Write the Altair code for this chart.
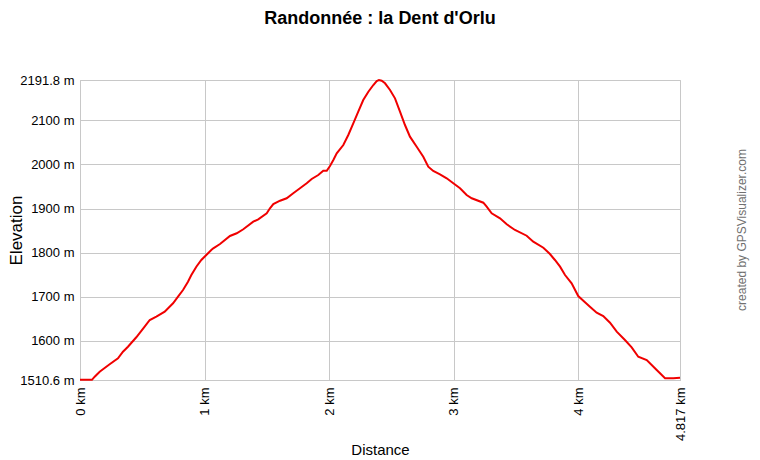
import altair as alt
import pandas as pd

title_text = "Randonnée : la Dent d'Orlu"
credit_text = "created by GPSVisualizer.com"

distance_km = [
    0.000, 0.096, 0.118, 0.158, 0.238, 0.305, 0.345, 0.385, 0.452, 0.519,
    0.560, 0.613, 0.680, 0.747, 0.787, 0.827, 0.867, 0.894, 0.934, 0.974,
    1.014, 1.054, 1.070, 1.124, 1.204, 1.258, 1.311, 1.391, 1.431, 1.499,
    1.525, 1.552, 1.606, 1.659, 1.712, 1.766, 1.820, 1.860, 1.913, 1.953,
    1.981, 2.007, 2.034, 2.061, 2.114, 2.154, 2.194, 2.234, 2.274, 2.315,
    2.355, 2.382, 2.400, 2.422, 2.449, 2.489, 2.529, 2.569, 2.609, 2.649,
    2.703, 2.756, 2.796, 2.836, 2.890, 2.944, 2.997, 3.051, 3.104, 3.145,
    3.238, 3.265, 3.305, 3.372, 3.426, 3.492, 3.586, 3.639, 3.720, 3.773,
    3.813, 3.854, 3.894, 3.947, 4.000, 4.041, 4.094, 4.148, 4.201, 4.255,
    4.309, 4.375, 4.429, 4.482, 4.550, 4.630, 4.697, 4.764, 4.817,
]
elevation_m = [
    1511.0, 1511.0, 1518.1, 1529.4, 1546.2, 1559.9, 1574.8, 1586.2, 1607.6, 1631.6,
    1646.8, 1654.3, 1665.7, 1684.8, 1699.7, 1715.0, 1733.8, 1749.0, 1767.9, 1783.1,
    1794.4, 1805.8, 1809.6, 1819.4, 1837.6, 1843.7, 1852.8, 1870.0, 1875.5, 1889.1,
    1900.5, 1910.2, 1917.7, 1923.2, 1934.5, 1945.9, 1957.2, 1967.0, 1976.1, 1985.8,
    1985.8, 1996.5, 2010.1, 2025.4, 2044.2, 2066.9, 2093.5, 2119.8, 2146.4, 2165.2,
    2180.4, 2189.5, 2191.8, 2190.2, 2184.3, 2169.1, 2150.2, 2119.8, 2089.6, 2063.1,
    2040.3, 2017.6, 1994.9, 1985.2, 1977.7, 1968.6, 1957.2, 1945.9, 1930.7, 1923.2,
    1913.2, 1904.1, 1889.1, 1877.8, 1864.1, 1851.2, 1838.2, 1824.6, 1811.0, 1796.7,
    1783.1, 1767.9, 1749.0, 1730.2, 1701.3, 1690.7, 1677.0, 1663.4, 1655.9, 1640.7,
    1620.3, 1601.4, 1584.8, 1563.5, 1556.0, 1533.3, 1514.5, 1514.5, 1515.8,
]

x_ticks = [0, 1, 2, 3, 4, 4.817]
y_ticks = [1510.6, 1600, 1700, 1800, 1900, 2000, 2100, 2191.8]

df = pd.DataFrame({"dist": distance_km, "elev": elevation_m})
FONT = "Liberation Sans"
GRID = "#c8c8c8"

line = alt.Chart(df).mark_line(color="#f00000", strokeWidth=2).encode(
    x=alt.X(
        "dist:Q",
        scale=alt.Scale(domain=[0, 4.817], nice=False, zero=False),
        axis=alt.Axis(
            values=x_ticks, labelExpr="datum.value + ' km'", labelAngle=-90,
            labelAlign="right", labelBaseline="middle", title="Distance",
            ticks=False, labelPadding=7,
            titleX=300, titleY=69, titleAlign="center", titleBaseline="middle",
            titleFontSize=15,
        ),
    ),
    y=alt.Y(
        "elev:Q",
        scale=alt.Scale(domain=[1510.6, 2191.8], nice=False, zero=False),
        axis=alt.Axis(
            values=y_ticks, labelExpr="datum.value + ' m'", title="Elevation",
            ticks=False, labelPadding=6,
            titleX=-64, titleY=150, titleAngle=-90, titleAlign="center",
            titleBaseline="middle", titleFontSize=17,
        ),
    ),
)

credit = alt.Chart(pd.DataFrame({"t": [credit_text]})).mark_text(
    angle=270, align="center", baseline="middle", fontSize=12,
    color="#707070", font=FONT,
).encode(x=alt.value(662), y=alt.value(150), text="t:N")

chart = alt.layer(line, credit).properties(
    width=600,
    height=300,
    padding={"left": 72, "top": 72, "right": 70, "bottom": 78},
    autosize=alt.AutoSizeParams(type="none"),
    title=alt.TitleParams(
        title_text, fontSize=18, fontWeight="bold", font=FONT,
        anchor="middle", offset=46, color="black",
    ),
).configure_axis(
    labelFont=FONT, labelFontSize=13, labelColor="black",
    titleFont=FONT, titleFontWeight="normal", titleColor="black",
    gridColor=GRID, gridWidth=1, gridOpacity=1,
    domainColor=GRID, domainWidth=1, labelOverlap=False, labelBound=False,
).configure_view(stroke=GRID, strokeWidth=1)

chart.save("out.html", embed_options={"renderer": "svg", "actions": False})
